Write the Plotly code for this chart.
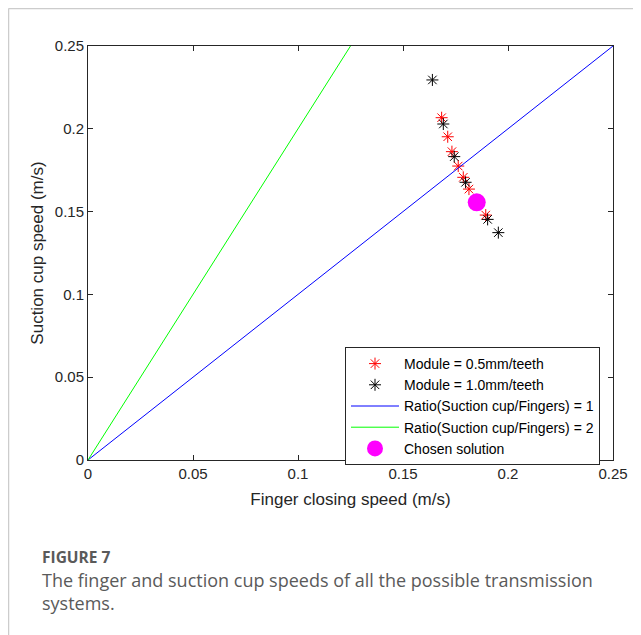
import plotly.graph_objects as go

# Data
red_x = [0.1684, 0.1713, 0.1733, 0.1763, 0.1787, 0.1814, 0.1894]
red_y = [0.2067, 0.1952, 0.1862, 0.1775, 0.1707, 0.1636, 0.1479]
black_x = [0.1640, 0.1692, 0.1744, 0.1798, 0.1903, 0.1954]
black_y = [0.2295, 0.2029, 0.1832, 0.1677, 0.1453, 0.1373]
ratio1_x = [0, 0.25]
ratio1_y = [0, 0.25]
ratio2_x = [0, 0.125]
ratio2_y = [0, 0.25]
chosen_x = [0.1851]
chosen_y = [0.1556]
ticks = [0, 0.05, 0.1, 0.15, 0.2, 0.25]
tick_text = ["0", "0.05", "0.1", "0.15", "0.2", "0.25"]

# page body has an 8px margin: figure origin sits at screen (8, 8)
OFF = 8
W, H = 641 - OFF, 635 - OFF
L, R, T, B = 88 - OFF, 641 - 613, 46 - OFF, 635 - 460
pw, ph = W - L - R, H - T - B


def px(x):  # screen x -> paper
    return (x - OFF - L) / pw


def py(y):  # screen y -> paper
    return (H - B - (y - OFF)) / ph


AX = "#262626"
FONT = "Liberation Sans, Arial"
fig = go.Figure()
fig.add_trace(go.Scatter(x=red_x, y=red_y, mode="markers", name="Module = 0.5mm/teeth",
                         marker=dict(symbol="asterisk-open", size=10, color="#ff0000",
                                     line=dict(color="#ff0000", width=1))))
fig.add_trace(go.Scatter(x=black_x, y=black_y, mode="markers", name="Module = 1.0mm/teeth",
                         marker=dict(symbol="asterisk-open", size=10, color="#000000",
                                     line=dict(color="#000000", width=1))))
fig.add_trace(go.Scatter(x=ratio1_x, y=ratio1_y, mode="lines", name="Ratio(Suction cup/Fingers) = 1",
                         line=dict(color="#0000ff", width=1)))
fig.add_trace(go.Scatter(x=ratio2_x, y=ratio2_y, mode="lines", name="Ratio(Suction cup/Fingers) = 2",
                         line=dict(color="#00ff00", width=1)))
fig.add_trace(go.Scatter(x=chosen_x, y=chosen_y, mode="markers", name="Chosen solution",
                         marker=dict(symbol="circle", size=18, color="#ff00ff")))

axis_common = dict(
    range=[0, 0.25], tickvals=ticks, ticktext=tick_text, showgrid=False, zeroline=False,
    showline=True, linecolor=AX, linewidth=1, mirror="allticks", ticks="inside",
    ticklen=5, tickcolor=AX, tickfont=dict(family=FONT, size=15, color=AX),
)
fig.update_xaxes(**axis_common, title=dict(text="Finger closing speed (m/s)", standoff=12,
                 font=dict(family=FONT, size=17, color=AX)))
fig.update_yaxes(**axis_common, title=dict(text="Suction cup speed (m/s)", standoff=6,
                 font=dict(family=FONT, size=17, color=AX)))

# Outer frame (left and top light gray border)
fig.add_shape(type="line", xref="paper", yref="paper", x0=px(8.5), x1=px(8.5), y0=py(8.5), y1=py(635),
              line=dict(color="#cccccc", width=1.5))
fig.add_shape(type="line", xref="paper", yref="paper", x0=px(8.5), x1=px(641), y0=py(8.5), y1=py(8.5),
              line=dict(color="#cccccc", width=1.5))

CAP = "#5a5a5a"
fig.add_annotation(xref="paper", yref="paper", x=px(40), y=py(557), xanchor="left", yanchor="middle",
                   text="<b>FIGURE 7</b>", showarrow=False,
                   font=dict(family="Open Sans", size=15.5, color=CAP))
fig.add_annotation(xref="paper", yref="paper", x=px(40), y=py(580), xanchor="left", yanchor="middle",
                   text="The finger and suction cup speeds of all the possible transmission",
                   showarrow=False, font=dict(family="Open Sans", size=18, color=CAP))
fig.add_annotation(xref="paper", yref="paper", x=px(40), y=py(603), xanchor="left", yanchor="middle",
                   text="systems.", showarrow=False, font=dict(family="Open Sans", size=18, color=CAP))

fig.update_layout(
    width=W, height=H, margin=dict(l=L, r=R, t=T, b=B),
    paper_bgcolor="white", plot_bgcolor="white",
    legend=dict(x=px(600), y=py(347), xanchor="right", yanchor="top",
                bgcolor="white", bordercolor=AX, borderwidth=1,
                font=dict(family=FONT, size=14, color="#000000"),
                tracegroupgap=0, itemwidth=48),
    showlegend=True,
)

fig.write_html("out.html")
